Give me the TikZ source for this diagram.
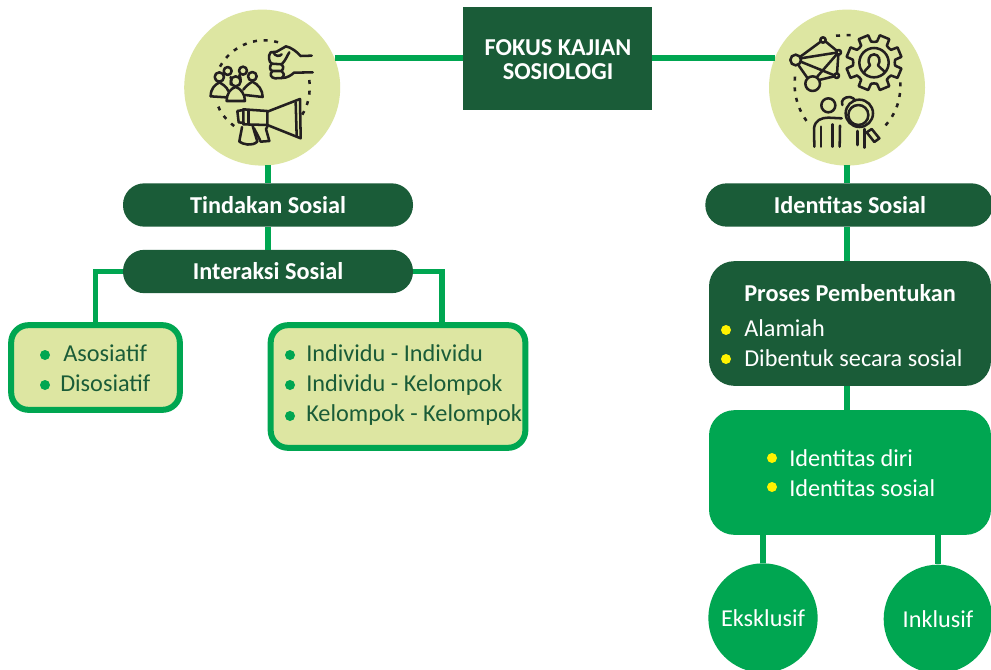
\documentclass[tikz,border=0pt]{standalone}
\usepackage{fontspec}
\setmainfont{Carlito}
\definecolor{dk}{HTML}{1A5C38}
\definecolor{gr}{HTML}{00A651}
\definecolor{lt}{HTML}{DDE6A2}
\definecolor{yl}{HTML}{FFF200}
\definecolor{ink}{HTML}{231F20}
\tikzset{
  conn/.style={draw=gr,line width=3.8pt,line join=miter},
  pill/.style={fill=dk,rounded corners=16pt,minimum width=217.5pt,minimum height=32.5pt,inner sep=0pt,text=white,font=\fontsize{18.2}{20}\selectfont\bfseries},
  lightbox/.style={fill=lt,draw=gr,line width=4.5pt,rounded corners=13pt,inner sep=0pt},
  solidbox/.style={rounded corners=19pt,inner sep=0pt,minimum width=211.5pt,minimum height=93.5pt},
  medal/.style={circle,fill=lt,minimum size=117pt,inner sep=0pt},
  endc/.style={circle,fill=gr,inner sep=0pt,text=white,font=\fontsize{18.2}{20}\selectfont},
  txt/.style={anchor=base west,inner sep=0pt,font=\fontsize{18.2}{20}\selectfont},
  bul/.style={circle,inner sep=0pt,minimum size=7.5pt},
  icon/.style={draw=ink,line width=1.9pt,line cap=round,line join=round},
  dots/.style={draw=ink,line width=1.9pt,dash pattern=on 3pt off 5pt},
}
\begin{document}
\begin{tikzpicture}[x=0.75pt,y=-0.75pt]
\useasboundingbox[fill=white] (0,0) rectangle (991,670);
\begin{scope}
\clip (0,0) rectangle (991,670);
% nodes
\node[fill=dk,minimum width=141.75pt,minimum height=77.25pt,inner sep=0pt] (fokus) at (557.5,58.5) {};
\node[inner sep=0pt,text=white,align=center,font=\fontsize{18.2}{18}\selectfont\bfseries] (fokustxt) at (558,59.5) {FOKUS KAJIAN\\SOSIOLOGI};
\node[medal] (cl) at (262.2,87.6) {};
\node[medal] (cr) at (847,87.6) {};
\node[pill] (tindakan) at (268,205) {Tindakan Sosial};
\node[pill] (interaksi) at (268,271.5) {Interaksi Sosial};
\node[pill,minimum width=215.5pt] (identitas) at (849,205) {};
\node[text=white,inner sep=0pt,font=\fontsize{18.2}{20}\selectfont\bfseries] (identitastxt) at (850,205) {Identitas Sosial};
\node[lightbox,minimum width=126.5pt,minimum height=63.5pt] (asos) at (95.5,367.5) {};
\node[lightbox,minimum width=191pt,minimum height=92pt] (indiv) at (398,386.5) {};
\node[solidbox,fill=dk] (proses) at (850,323.5) {};
\node[solidbox,fill=gr] (diri) at (850,472.5) {};
\node[endc,minimum size=82pt] (eks) at (763,618) {Eksklusif};
\node[endc,minimum size=81.5pt] (ink) at (938,619) {Inklusif};
% connectors
\coordinate (ftl) at (335,58);
\coordinate (ftr) at (775,58);
\draw[conn] (fokus.west|-ftl) -- (ftl);
\draw[conn] (fokus.east|-ftr) -- (ftr);
\coordinate (xl) at (268,165);
\draw[conn] (xl) -- (tindakan.north-|xl);
\draw[conn] (tindakan.south-|xl) -- (interaksi.north-|xl);
\draw[conn] (interaksi.west) -| (asos.north);
\coordinate (xm) at (442,322);
\draw[conn] (interaksi.east) -| (xm);
\coordinate (xr) at (847,165);
\draw[conn] (xr) -- (identitas.north-|xr);
\draw[conn] (identitas.south-|xr) -- (proses.north-|xr);
\draw[conn] (proses.south-|xr) -- (diri.north-|xr);
\draw[conn] (diri.south-|eks) -- (eks.north);
\draw[conn] (diri.south-|ink) -- (ink.north);
% left box text
\node[bul,fill=gr] (b1) at (45,355) {};
\node[bul,fill=gr] (b2) at (45,385) {};
\node[txt,text=dk] (t1) at (63,361) {Asosiatif};
\node[txt,text=dk] (t2) at (60,391) {Disosiatif};
\node[bul,fill=gr] (b3) at (290,355) {};
\node[bul,fill=gr] (b4) at (290,385) {};
\node[bul,fill=gr] (b5) at (290,416) {};
\node[txt,text=dk] (t3) at (306,361) {Individu - Individu};
\node[txt,text=dk] (t4) at (306,391) {Individu - Kelompok};
\node[txt,text=dk] (t5) at (306,421) {Kelompok - Kelompok};
% right boxes text
\node[txt,text=white,font=\fontsize{18.2}{20}\selectfont\bfseries] (t6) at (744,301) {Proses Pembentukan};
\node[bul,fill=yl] (b6) at (726,330) {};
\node[bul,fill=yl] (b7) at (726,359) {};
\node[txt,text=white] (t7) at (744,336) {Alamiah};
\node[txt,text=white] (t8) at (744,366) {Dibentuk secara sosial};
\node[bul,fill=yl] (b8) at (772,458) {};
\node[bul,fill=yl] (b9) at (772,487) {};
\node[txt,text=white] (t9) at (789,466) {Identitas diri};
\node[txt,text=white] (t10) at (789,496) {Identitas sosial};
\end{scope}
% left icon
\begin{scope}[shift={(180,5)},x=0.25pt,y=-0.25pt]
\draw[dots] (120,185) .. controls (150,130) and (220,90) .. (295,112);
\draw[dots] (388,225) .. controls (392,265) and (385,300) .. (365,332);
\draw[dots] (115,305) .. controls (125,330) and (145,350) .. (165,365);
% fist
\draw[icon] (395,152) -- (362,153) .. controls (350,140) and (335,128) .. (318,124) -- (290,140) -- (272,142) .. controls (264,150) and (266,172) .. (275,176) -- (305,178) .. controls (318,165) and (322,150) .. (328,142);
\draw[icon] (275,176) .. controls (268,185) and (268,195) .. (277,198) -- (305,198) .. controls (312,190) and (310,180) .. (305,178);
\draw[icon] (277,198) .. controls (268,208) and (272,218) .. (285,220) -- (305,219) .. controls (315,212) and (312,202) .. (305,198);
\draw[icon] (305,219) .. controls (320,220) and (335,210) .. (342,203) -- (398,202);
\draw[icon] (280,142) .. controls (285,155) and (300,155) .. (305,148);
% people
\draw[icon] (118,216) circle[radius=14];
\draw[icon] (143,198) circle[radius=12];
\draw[icon] (189,197) circle[radius=12];
\draw[icon] (217,214) circle[radius=13];
\draw[icon] (167,229) circle[radius=15];
\draw[icon] (92,274) .. controls (92,250) and (105,240) .. (118,232) .. controls (128,238) and (140,245) .. (145,258);
\draw[icon] (92,274) -- (138,277);
\draw[icon] (140,288) .. controls (140,265) and (152,250) .. (167,246) .. controls (182,250) and (195,268) .. (195,288) -- cycle;
\draw[icon] (195,270) -- (248,276) .. controls (248,255) and (235,238) .. (217,230) .. controls (207,236) and (197,244) .. (190,254);
\draw[icon] (152,216) .. controls (154,222) and (155,228) .. (152,238);
\draw[icon] (178,210) .. controls (180,214) and (182,220) .. (182,226);
% megaphone
\draw[icon] (262,320) -- (360,282) -- (362,400) -- (262,360);
\draw[icon] (347,292) -- (350,393);
\draw[icon] (190,313) -- (262,318) -- (262,360) -- (190,358) -- cycle;
\draw[icon] (190,315) -- (172,318) -- (176,352) -- (192,354);
\draw[icon] (206,316) -- (206,358);
\draw[icon] (186,366) .. controls (184,380) and (180,395) .. (178,410) .. controls (190,418) and (215,425) .. (232,410) .. controls (228,395) and (222,378) .. (218,362);
\draw[icon] (222,370) .. controls (230,385) and (238,400) .. (242,410) -- (268,408) -- (258,372) -- (262,365);
\end{scope}
% right icon
\begin{scope}[shift={(765,5)},x=0.25pt,y=-0.25pt]
\draw[dots] (213,92) -- (262,90);
\draw[dots] (90,215) .. controls (85,260) and (95,310) .. (130,355);
\draw[dots] (406,232) .. controls (408,280) and (395,325) .. (358,365);
% network
\draw[icon] (92,165) circle[radius=16];
\draw[icon] (143,236) circle[radius=22];
\draw[icon] (174,105) circle[radius=8];
\draw[icon] (221,142) circle[radius=7];
\draw[icon] (215,212) circle[radius=7];
\draw[icon] (106,155) -- (167,110);
\draw[icon] (181,109) -- (215,137);
\draw[icon] (107,160) -- (214,143);
\draw[icon] (220,149) -- (216,205);
\draw[icon] (107,170) -- (208,211);
\draw[icon] (100,180) -- (128,220);
\draw[icon] (162,225) -- (208,214);
\draw[icon] (155,217) -- (216,147);
% gear
\begin{scope}[shift={(327,173)}]
\foreach \a in {0,45,...,315}{
  \draw[icon] (\a+8:64) -- (\a+12:84) -- (\a+33:84) -- (\a+37:64) .. controls (\a+40:62) and (\a+50:62) .. (\a+53:64);
}
\draw[icon] (0,0) circle[radius=44];
\draw[icon] (-30,30) .. controls (-25,18) and (-15,15) .. (-12,8) .. controls (-22,-5) and (-15,-25) .. (0,-25) .. controls (15,-25) and (22,-5) .. (12,8) .. controls (15,15) and (25,18) .. (32,28);
\end{scope}
% people & lens
\draw[icon] (190,301) circle[radius=21];
\draw[icon] (148,425) -- (147,370) .. controls (150,345) and (170,338) .. (190,338) -- (230,340);
\draw[icon] (168,365) -- (168,425);
\draw[icon] (203,358) -- (203,425);
\draw[icon] (225,362) -- (224,425);
\draw[icon] (278,378) -- (278,420);
\draw[icon] (298,372) -- (298,428);
\draw[icon] (232,300) .. controls (226,285) and (240,275) .. (255,276) .. controls (262,277) and (268,282) .. (270,286);
\draw[icon] (283,325) circle[radius=41];
\draw[icon] (280,330) circle[radius=30];
\draw[icon] (305,382) -- (328,411) -- (343,400) -- (320,372) -- cycle;
\end{scope}
\end{tikzpicture}
\end{document}
